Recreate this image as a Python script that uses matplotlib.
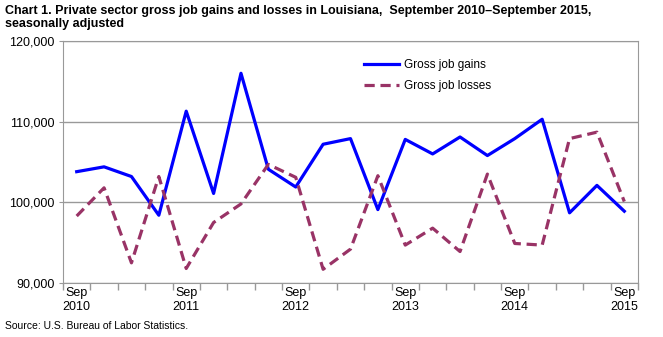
import numpy as np
import matplotlib
matplotlib.use('Agg')
import matplotlib.pyplot as plt

plt.rcParams['font.family'] = ['Liberation Sans', 'DejaVu Sans']

years = ['2010', '2011', '2012', '2013', '2014', '2015']
gains = [103.8, 104.4, 103.2, 98.4, 111.3, 101.1, 116.0, 104.1, 101.9, 107.2, 107.9,
         99.1, 107.8, 106.0, 108.1, 105.8, 107.9, 110.3, 98.7, 102.1, 98.9]
losses = [98.3, 101.8, 92.5, 103.2, 91.8, 97.5, 99.8, 104.7, 103.1, 91.7, 94.2,
          103.3, 94.7, 96.8, 93.9, 103.5, 94.9, 94.7, 107.9, 108.7, 100.1]
gains = np.array(gains) * 1000
losses = np.array(losses) * 1000
x = np.arange(len(gains))

fig = plt.figure(figsize=(6.63, 3.37), dpi=100)
ax = fig.add_axes([63 / 663, 1 - 283 / 337, 575 / 663, 242 / 337])

ax.plot(x, gains, color='#0000ff', lw=2.3, label='Gross job gains', zorder=3)
ax.plot(x, losses, color='#993366', lw=2.3, dashes=(3.2, 1.8), label='Gross job losses', zorder=3)

ax.set_xlim(-0.5, len(x) - 0.5)
ax.set_ylim(90000, 120000)
ax.set_yticks([90000, 100000, 110000, 120000])
ax.set_yticklabels(['90,000', '100,000', '110,000', '120,000'])
ax.yaxis.grid(True, color='#999999', lw=1)
ax.set_axisbelow(True)

ax.set_xticks(np.arange(-0.5, len(x), 1), minor=False)
ax.set_xticklabels([])
ax.set_xticks(np.arange(0, len(x), 4), minor=True)
ax.set_xticklabels(['Sep\n' + y for y in years], minor=True)
ax.tick_params(axis='x', which='major', length=5, color='#999999', width=1)
ax.tick_params(axis='x', which='minor', length=0, pad=3, labelsize=9)
ax.tick_params(axis='y', length=3, color='#999999', labelsize=9, pad=3)

for s in ax.spines.values():
    s.set_color('#999999')

ax.legend(loc='upper left', bbox_to_anchor=(0.505, 0.97), frameon=False, fontsize=8.5,
          handlelength=3.0, handletextpad=0.35, labelspacing=0.8)

fig.text(0.008, 0.985, 'Chart 1. Private sector gross job gains and losses in Louisiana,  September 2010\u2013September 2015,\nseasonally adjusted',
         fontsize=9, fontweight='bold', va='top', ha='left', linespacing=1.1)
fig.text(0.008, 0.017, 'Source: U.S. Bureau of Labor Statistics.', fontsize=7.5, va='bottom', ha='left')

plt.savefig('out.png', dpi=100)
